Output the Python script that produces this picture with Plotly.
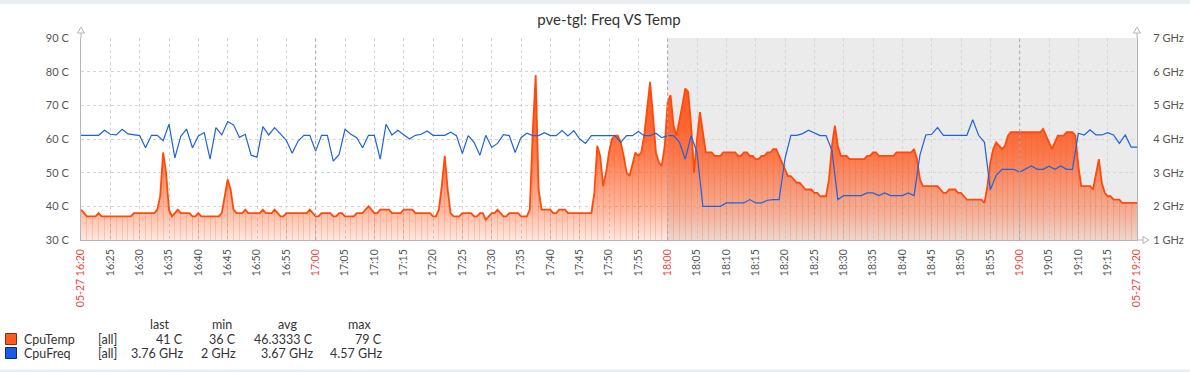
import plotly.graph_objects as go
import pandas as pd

START = "2024-05-27 16:20:00"
END = "2024-05-27 19:20:00"
SHADE_START = "2024-05-27 18:00:00"

# CpuTemp (C), one value every 30 s from 16:20 to 19:20
cpu_temp = [
    39, 38, 37, 37, 37, 37, 38, 37, 37, 37, 37, 37, 37, 37, 37, 37, 37, 37, 38, 38,  # 16:20
    38, 38, 38, 38, 38, 38, 39, 43, 56, 50, 39, 37, 38, 39, 38, 38, 38, 38, 37, 37,  # 16:30
    38, 37, 37, 37, 37, 37, 37, 37, 38, 43, 48, 45, 39, 38, 38, 38, 39, 38, 38, 38,  # 16:40
    38, 38, 39, 38, 38, 38, 39, 38, 37, 37, 38, 38, 38, 38, 38, 38, 38, 38, 39, 38,  # 16:50
    37, 37, 38, 38, 38, 38, 37, 37, 38, 38, 37, 37, 37, 37, 38, 38, 38, 39, 40, 39,  # 17:00
    38, 38, 39, 39, 39, 39, 38, 38, 38, 38, 39, 39, 39, 39, 38, 38, 38, 38, 38, 38,  # 17:10
    37, 37, 39, 46, 55, 45, 38, 37, 37, 37, 38, 38, 38, 38, 37, 37, 38, 38, 36, 37,  # 17:20
    38, 38, 39, 38, 37, 37, 38, 38, 38, 38, 37, 37, 37, 39, 62, 79, 45, 39, 39, 39,  # 17:30
    39, 38, 38, 39, 39, 39, 38, 38, 38, 38, 38, 38, 38, 38, 38, 44, 58, 55, 46, 50,  # 17:40
    56, 60, 61, 61, 59, 55, 50, 49, 53, 56, 55, 56, 61, 69, 77, 67, 56, 53, 52, 58,  # 17:50
    71, 73, 64, 61, 65, 70, 75, 74, 64, 50, 60, 68, 62, 56, 56, 56, 55, 55, 55, 56,  # 18:00
    56, 56, 56, 56, 55, 55, 56, 56, 55, 55, 54, 54, 55, 55, 56, 56, 57, 57, 55, 53,  # 18:10
    51, 49, 49, 48, 47, 47, 46, 45, 45, 45, 44, 44, 43, 43, 43, 48, 58, 64, 58, 55,  # 18:20
    55, 55, 54, 54, 54, 54, 54, 54, 55, 55, 56, 56, 55, 55, 55, 55, 55, 55, 56, 56,  # 18:30
    56, 56, 56, 56, 57, 54, 48, 46, 46, 46, 46, 46, 46, 45, 44, 44, 45, 45, 45, 44,  # 18:40
    44, 43, 42, 42, 42, 42, 42, 42, 41, 46, 53, 57, 59, 58, 57, 58, 61, 62, 62, 62,  # 18:50
    62, 62, 62, 62, 62, 62, 62, 62, 63, 61, 59, 57, 59, 61, 61, 61, 62, 62, 62, 61,  # 19:00
    52, 46, 46, 46, 46, 45, 49, 54, 47, 44, 43, 43, 42, 42, 42, 41, 41, 41, 41, 41,  # 19:10
    41,                                                                              # 19:20
]

# CpuFreq (GHz), one value per minute from 16:20 to 19:20
cpu_freq = [
    4.11, 4.11, 4.11, 4.11, 4.26, 4.14, 4.12, 4.29, 4.15, 4.12,  # 16:20
    4.10, 3.74, 4.11, 4.11, 3.95, 4.44, 3.44, 4.08, 4.29, 3.74,  # 16:30
    4.09, 4.19, 3.40, 4.34, 4.12, 4.52, 4.42, 4.05, 4.14, 3.52,  # 16:40
    3.46, 4.37, 4.12, 4.34, 4.14, 3.96, 3.58, 3.94, 4.11, 4.11,  # 16:50
    3.64, 4.11, 4.11, 3.34, 3.54, 4.29, 4.14, 4.04, 3.74, 4.11,  # 17:00
    4.11, 3.40, 4.44, 4.12, 4.26, 4.12, 4.00, 4.11, 4.14, 4.24,  # 17:10
    4.11, 4.11, 4.11, 4.20, 4.10, 3.57, 4.10, 3.90, 3.52, 4.11,  # 17:20
    3.75, 3.87, 4.13, 4.10, 3.60, 4.04, 4.17, 4.10, 4.10, 4.19,  # 17:30
    4.10, 4.10, 4.25, 4.09, 4.25, 4.00, 3.87, 4.10, 4.10, 4.10,  # 17:40
    4.10, 4.10, 3.90, 4.10, 4.10, 4.22, 4.10, 4.10, 4.17, 4.04,  # 17:50
    4.10, 4.10, 3.91, 3.40, 4.10, 3.60, 2.00, 2.00, 2.00, 2.00,  # 18:00
    2.10, 2.10, 2.10, 2.10, 2.20, 2.10, 2.10, 2.18, 2.20, 2.20,  # 18:10
    3.42, 4.11, 4.11, 4.16, 4.26, 4.19, 4.10, 4.10, 3.66, 2.20,  # 18:20
    2.32, 2.32, 2.32, 2.32, 2.40, 2.40, 2.32, 2.40, 2.32, 2.32,  # 18:30
    2.32, 2.40, 2.32, 3.52, 4.12, 4.14, 4.34, 4.11, 4.11, 4.11,  # 18:40
    4.11, 4.11, 4.57, 4.11, 3.90, 2.49, 2.92, 3.10, 3.10, 3.10,  # 18:50
    3.02, 3.10, 3.20, 3.10, 3.10, 3.19, 3.10, 3.20, 3.10, 3.10,  # 19:00
    4.17, 4.12, 4.27, 4.12, 4.12, 4.19, 4.12, 3.87, 4.12, 3.76,  # 19:10
    3.76,                                                        # 19:20
]

tick_labels = [
    "05-27 16:20", "16:25", "16:30", "16:35", "16:40", "16:45", "16:50", "16:55",
    "17:00", "17:05", "17:10", "17:15", "17:20", "17:25", "17:30", "17:35", "17:40",
    "17:45", "17:50", "17:55", "18:00", "18:05", "18:10", "18:15", "18:20", "18:25",
    "18:30", "18:35", "18:40", "18:45", "18:50", "18:55", "19:00", "19:05", "19:10",
    "19:15", "05-27 19:20",
]
red_labels = ["05-27 16:20", "17:00", "18:00", "19:00", "05-27 19:20"]
hour_lines = ["2024-05-27 17:00:00", "2024-05-27 18:00:00", "2024-05-27 19:00:00"]

temp_ticks = [30, 40, 50, 60, 70, 80, 90]
temp_tick_text = ["30 C", "40 C", "50 C", "60 C", "70 C", "80 C", "90 C"]
freq_ticks = [1, 2, 3, 4, 5, 6, 7]
freq_tick_text = ["1 GHz", "2 GHz", "3 GHz", "4 GHz", "5 GHz", "6 GHz", "7 GHz"]

legend_header = ["last", "min", "avg", "max"]
legend_names = ["CpuTemp", "CpuFreq"]
legend_scope = ["[all]", "[all]"]
legend_values = [
    ["41 C", "36 C", "46.3333 C", "79 C"],
    ["3.76 GHz", "2 GHz", "3.67 GHz", "4.57 GHz"],
]

TITLE = "pve-tgl: Freq VS Temp"

# ---------------------------------------------------------------
W, H = 1190, 372
L, R, T, B = 81, 53, 38, 132
PW, PH = W - L - R, H - T - B
TEMP_C = "#ff4a0a"
FREQ_C = "#1f63dc"
FONT = "Lato"
GRID_C = "#d0d6dc"
AXIS_C = "#aeb6be"


def px(x):
    return (x - L) / PW


def py(y):
    return (H - B - y) / PH


def P(x, y):
    return f"{px(x):.5f},{py(y):.5f}"


temp_times = pd.date_range(START, periods=len(cpu_temp), freq="30s")
freq_times = pd.date_range(START, periods=len(cpu_freq), freq="1min")
tick_times = pd.date_range(START, END, freq="5min")

tick_text = [
    f"<span style='color:#e8453c'>{t}</span>" if t in red_labels else t
    for t in tick_labels
]

fig = go.Figure()

# thin vertical strokes inside the filled area (one per minute)
minute_temp = cpu_temp[::2]
fig.add_trace(go.Bar(
    x=freq_times, y=[v - 30 for v in minute_temp], base=30,
    width=9000, marker=dict(color="rgba(240,90,40,0.22)", line=dict(width=0)),
    hoverinfo="skip", showlegend=False,
))

fig.add_trace(go.Scatter(
    x=temp_times, y=cpu_temp, mode="lines", name="CpuTemp",
    line=dict(color=TEMP_C, width=1.8),
    fill="tozeroy",
    fillgradient=dict(
        type="vertical", start=30, stop=80,
        colorscale=[
            [0.0, "rgba(255,80,20,0.13)"],
            [0.16, "rgba(255,80,20,0.38)"],
            [0.5, "rgba(255,80,20,0.74)"],
            [0.7, "rgba(255,80,20,0.87)"],
            [1.0, "rgba(255,80,20,0.96)"],
        ],
    ),
    showlegend=False,
))

fig.add_trace(go.Scatter(
    x=freq_times, y=cpu_freq, mode="lines", name="CpuFreq", yaxis="y2",
    line=dict(color=FREQ_C, width=1.2),
    showlegend=False,
))

shapes = []
# shaded period
shapes.append(dict(type="rect", xref="x", yref="paper", x0=SHADE_START, x1=END,
                   y0=0, y1=1, fillcolor="#ebebeb", line=dict(width=0), layer="below"))
# darker hour grid lines
for h in hour_lines:
    shapes.append(dict(type="line", xref="x", yref="paper", x0=h, x1=h, y0=0, y1=1,
                       line=dict(color="#a4acb4", width=1, dash="3px,3px"), layer="above"))
# axis extensions and arrows
shapes.append(dict(type="line", xref="paper", yref="paper", x0=px(L), x1=px(L),
                   y0=py(T), y1=py(33), line=dict(color=AXIS_C, width=1)))
shapes.append(dict(type="path", xref="paper", yref="paper",
                   path=f"M {P(L - 3.5, 33)} L {P(L, 27)} L {P(L + 3.5, 33)} Z",
                   line=dict(color=AXIS_C, width=1), fillcolor="white"))
shapes.append(dict(type="line", xref="paper", yref="paper", x0=1, x1=1,
                   y0=py(T), y1=py(33), line=dict(color=AXIS_C, width=1)))
shapes.append(dict(type="path", xref="paper", yref="paper",
                   path=f"M {P(L + PW - 3.5, 33)} L {P(L + PW, 27)} L {P(L + PW + 3.5, 33)} Z",
                   line=dict(color=AXIS_C, width=1), fillcolor="white"))
shapes.append(dict(type="line", xref="paper", yref="paper", x0=1, x1=px(L + PW + 6),
                   y0=0, y1=0, line=dict(color=AXIS_C, width=1)))
shapes.append(dict(type="path", xref="paper", yref="paper",
                   path=f"M {P(L + PW + 6, H - B - 3.5)} L {P(L + PW + 12, H - B)} L {P(L + PW + 6, H - B + 3.5)} Z",
                   line=dict(color=AXIS_C, width=1), fillcolor="white"))
# page top and bottom bands
shapes.append(dict(type="rect", xref="paper", yref="paper", x0=px(0), x1=px(W),
                   y0=py(0), y1=py(4), fillcolor="#e9edf0", line=dict(width=0)))
shapes.append(dict(type="rect", xref="paper", yref="paper", x0=px(0), x1=px(W),
                   y0=py(369.5), y1=py(372), fillcolor="#e9edf0", line=dict(width=0)))

annotations = []
header_x = [160, 222, 287, 359]
value_right = [185, 238, 315, 384]
row_y = [339, 353]
legend_colors = [("#ff5a1f", "#8a2c0c"), ("#1a5ce6", "#0d2a6e")]
for lab, x in zip(legend_header, header_x):
    annotations.append(dict(text=lab, x=px(x), y=py(324), xref="paper", yref="paper",
                            xanchor="center", yanchor="middle", showarrow=False,
                            font=dict(family=FONT, size=12.5, color="#333")))
for i in range(2):
    y = row_y[i]
    fill, edge = legend_colors[i]
    shapes.append(dict(type="rect", xref="paper", yref="paper",
                       x0=px(5.5), x1=px(16.5), y0=py(y - 5.5), y1=py(y + 5.5),
                       fillcolor=fill, line=dict(color=edge, width=1)))
    annotations.append(dict(text=legend_names[i], x=px(22), y=py(y), xref="paper", yref="paper",
                            xanchor="left", yanchor="middle", showarrow=False,
                            font=dict(family=FONT, size=12.5, color="#333")))
    annotations.append(dict(text=legend_scope[i], x=px(96), y=py(y), xref="paper", yref="paper",
                            xanchor="left", yanchor="middle", showarrow=False,
                            font=dict(family=FONT, size=12.5, color="#333")))
    for v, xr in zip(legend_values[i], value_right):
        annotations.append(dict(text=v, x=px(xr), y=py(y), xref="paper", yref="paper",
                                xanchor="right", yanchor="middle", showarrow=False,
                                font=dict(family=FONT, size=12.5, color="#333")))

fig.update_layout(
    width=W, height=H,
    margin=dict(l=L, r=R, t=T, b=B, pad=0, autoexpand=False),
    paper_bgcolor="white", plot_bgcolor="white",
    font=dict(family=FONT, size=11, color="#555"),
    title=dict(text=TITLE, x=0.5, xref="paper", xanchor="center",
               y=1 - 20 / H, yanchor="middle",
               font=dict(family=FONT, size=15, color="#333")),
    bargap=0, barmode="overlay",
    showlegend=False,
    hovermode=False,
    xaxis=dict(
        type="date", range=[START, END], automargin=False,
        tickmode="array", tickvals=tick_times, ticktext=tick_text,
        tickangle=-90, ticks="", ticklabelstandoff=4,
        tickfont=dict(family=FONT, size=10.5, color="#555"),
        showgrid=True, gridcolor=GRID_C, griddash="3px,3px", gridwidth=1,
        showline=True, linecolor=AXIS_C, linewidth=1,
        zeroline=False, fixedrange=True,
    ),
    yaxis=dict(
        range=[30, 90], tickmode="array", tickvals=temp_ticks, ticktext=temp_tick_text,
        ticks="", ticklabelstandoff=9, automargin=False,
        tickfont=dict(family=FONT, size=11, color="#555"),
        showgrid=True, gridcolor=GRID_C, griddash="3px,3px", gridwidth=1,
        showline=True, linecolor=AXIS_C, linewidth=1, zeroline=False,
    ),
    yaxis2=dict(
        range=[1, 7], overlaying="y", side="right", automargin=False,
        tickmode="array", tickvals=freq_ticks, ticktext=freq_tick_text,
        ticks="", ticklabelstandoff=13,
        tickfont=dict(family=FONT, size=11, color="#555"),
        showgrid=False, showline=True, linecolor=AXIS_C, linewidth=1, zeroline=False,
    ),
    shapes=shapes,
    annotations=annotations,
)

fig.write_html("out.html", config={"displayModeBar": False},
               post_script="document.body.style.margin='0px';")
